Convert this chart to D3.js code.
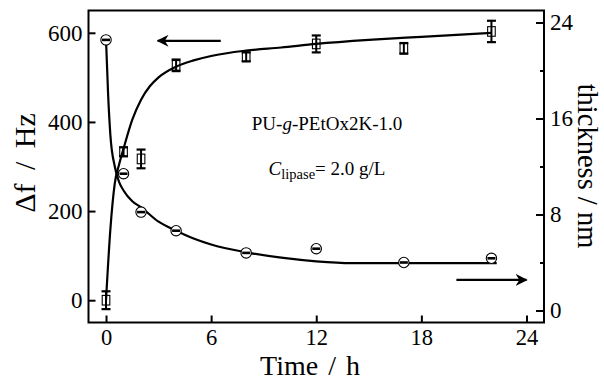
<!DOCTYPE html>
<html>
<head>
<meta charset="utf-8">
<script src="https://cdn.jsdelivr.net/npm/d3@7"></script>
<style>
  html, body { margin: 0; padding: 0; background: #fff; }
  svg { display: block; }
  text { font-family: "Liberation Serif", "Times New Roman", serif; fill: #000; }
</style>
</head>
<body>
<svg id="chart" width="604" height="381"></svg>
<script>
// Measurement times (h)
const times = [0, 1, 2, 4, 8, 12, 17, 22];
// Frequency shift Δf (Hz) with error bars
const dfValues = [0, 333, 317, 527, 546, 575, 565, 603];
const dfErrors = [20, 10, 21, 13, 10, 19, 12, 24];
// Film thickness (nm)
const thickValues = [22.55, 11.4, 8.2, 6.65, 4.8, 5.15, 4.0, 4.35];

// Fitted curves (t, value)
const dfFitT = [0, 0.25, 0.5, 0.75, 1, 1.5, 2, 2.5, 3, 4, 5, 6, 8, 10, 12, 15, 18, 22];
const dfFitV = [0, 160, 262, 305, 340, 405, 450, 480, 500, 524, 538, 548, 560, 567, 575, 584, 591, 600];
const thFitT = [0, 0.12, 0.25, 0.5, 0.75, 1, 1.5, 2, 3, 4, 5, 6, 8, 10, 12, 14, 17, 22.3];
const thFitV = [22.55, 18.0, 14.6, 12.0, 10.7, 10.0, 9.1, 8.6, 7.4, 6.65, 6.0, 5.5, 4.85, 4.4, 4.1, 3.95, 3.95, 3.95];

// Tick values
const xTicks = [0, 6, 12, 18, 24];
const yLeftTicks = [0, 200, 400, 600];
const yRightMajor = [0, 8, 16, 24];
const yRightMinor = [4, 12, 20];

const svg = d3.select("#chart");
const L = 88.5, R = 544, T = 10.5, B = 322.5;

const x = d3.scaleLinear().domain([-1, 25]).range([L, R]);
const yL = d3.scaleLinear().domain([-50, 650]).range([B, T]);
const yR = d3.scaleLinear().domain([-1, 25]).range([B, T]);

// Axes with inward ticks
function styleAxis(g, fs) {
  g.select(".domain").remove();
  g.selectAll(".tick line").attr("stroke", "#000").attr("stroke-width", 2);
  g.selectAll(".tick text").style("font-size", fs + "px")
    .style("font-family", "'Liberation Serif', serif").attr("fill", "#000");
}

svg.append("g").attr("transform", `translate(0,${B})`)
  .call(d3.axisBottom(x).tickValues(xTicks).tickSize(-7).tickPadding(7).tickFormat(d3.format("d")))
  .call(g => styleAxis(g, 22.5));

svg.append("g").attr("transform", `translate(${L},0)`)
  .call(d3.axisLeft(yL).tickValues(yLeftTicks).tickSize(-7).tickPadding(6).tickFormat(d3.format("d")))
  .call(g => styleAxis(g, 23));

svg.append("g").attr("transform", `translate(${R},0)`)
  .call(d3.axisRight(yR).tickValues(yRightMajor).tickSize(-8).tickPadding(6).tickFormat(d3.format("d")))
  .call(g => styleAxis(g, 23));

svg.append("g").attr("transform", `translate(${R},0)`)
  .call(d3.axisRight(yR).tickValues(yRightMinor).tickSize(-4).tickFormat(""))
  .call(g => styleAxis(g, 23));

// Plot frame
svg.append("rect").attr("x", L).attr("y", T).attr("width", R - L).attr("height", B - T)
  .attr("fill", "none").attr("stroke", "#000").attr("stroke-width", 2);

// Fit curves
const lineL = d3.line().x(d => x(d[0])).y(d => yL(d[1])).curve(d3.curveMonotoneX);
const lineR = d3.line().x(d => x(d[0])).y(d => yR(d[1])).curve(d3.curveMonotoneX);

svg.append("path").datum(d3.zip(dfFitT, dfFitV)).attr("d", lineL)
  .attr("fill", "none").attr("stroke", "#000").attr("stroke-width", 2.2);
svg.append("path").datum(d3.zip(thFitT, thFitV)).attr("d", lineR)
  .attr("fill", "none").attr("stroke", "#000").attr("stroke-width", 2.2);

// Δf points: hollow squares with error bars
const sq = svg.append("g").selectAll("g").data(times.map((t, i) => ({ t, v: dfValues[i], e: dfErrors[i] })))
  .join("g");
sq.append("line")
  .attr("x1", d => x(d.t)).attr("x2", d => x(d.t))
  .attr("y1", d => yL(d.v - d.e)).attr("y2", d => yL(d.v + d.e))
  .attr("stroke", "#000").attr("stroke-width", 2);
sq.append("line")
  .attr("x1", d => x(d.t) - 4.5).attr("x2", d => x(d.t) + 4.5)
  .attr("y1", d => yL(d.v - d.e)).attr("y2", d => yL(d.v - d.e))
  .attr("stroke", "#000").attr("stroke-width", 2.2);
sq.append("line")
  .attr("x1", d => x(d.t) - 4.5).attr("x2", d => x(d.t) + 4.5)
  .attr("y1", d => yL(d.v + d.e)).attr("y2", d => yL(d.v + d.e))
  .attr("stroke", "#000").attr("stroke-width", 2.2);
sq.append("rect")
  .attr("x", d => x(d.t) - 3.8).attr("y", d => yL(d.v) - 4.8)
  .attr("width", 7.6).attr("height", 9.6)
  .attr("fill", "none").attr("stroke", "#000").attr("stroke-width", 1.1);

// Thickness points: hollow circles with small error caps
const ci = svg.append("g").selectAll("g").data(times.map((t, i) => ({ t, v: thickValues[i] })))
  .join("g");
ci.append("circle")
  .attr("cx", d => x(d.t)).attr("cy", d => yR(d.v)).attr("r", 5.2)
  .attr("fill", "#fff").attr("stroke", "#000").attr("stroke-width", 1.1);
ci.append("line")
  .attr("x1", d => x(d.t) - 4).attr("x2", d => x(d.t) + 4)
  .attr("y1", d => yR(d.v)).attr("y2", d => yR(d.v))
  .attr("stroke", "#000").attr("stroke-width", 2.6);

// Direction arrows
const defs = svg.append("defs");
defs.append("marker").attr("id", "head").attr("viewBox", "0 0 10 10")
  .attr("refX", 9).attr("refY", 5).attr("markerWidth", 12).attr("markerHeight", 12)
  .attr("markerUnits", "userSpaceOnUse").attr("orient", "auto")
  .append("path").attr("d", "M0,0 L10,5 L0,10 L3,5 Z").attr("fill", "#000");

svg.append("line").attr("x1", x(6.55)).attr("x2", x(2.95))
  .attr("y1", yL(582)).attr("y2", yL(582))
  .attr("stroke", "#000").attr("stroke-width", 2.2).attr("marker-end", "url(#head)");
svg.append("line").attr("x1", x(20)).attr("x2", x(24))
  .attr("y1", yR(2.55)).attr("y2", yR(2.55))
  .attr("stroke", "#000").attr("stroke-width", 2.2).attr("marker-end", "url(#head)");

// Annotations
const ann1 = svg.append("text").attr("x", 327).attr("y", 130).attr("text-anchor", "middle")
  .style("font-size", "19px");
ann1.append("tspan").text("PU-");
ann1.append("tspan").style("font-style", "italic").text("g");
ann1.append("tspan").text("-PEtOx2K-1.0");

const ann2 = svg.append("text").attr("x", 327).attr("y", 175).attr("text-anchor", "middle")
  .style("font-size", "19px");
ann2.append("tspan").style("font-style", "italic").text("C");
ann2.append("tspan").attr("dy", 4).style("font-size", "14.5px").text("lipase");
ann2.append("tspan").attr("dy", -4).text("= 2.0 g/L");

// Axis titles
svg.append("text").attr("x", 310).attr("y", 375).attr("text-anchor", "middle")
  .style("font-size", "28px").style("word-spacing", "3px").text("Time / h");

svg.append("text").attr("transform", `translate(35,${163}) rotate(-90)`).attr("text-anchor", "middle")
  .style("font-size", "30px").style("word-spacing", "6px").text("Δf / Hz");

svg.append("text").attr("transform", `translate(578,${166}) rotate(90)`).attr("text-anchor", "middle")
  .style("font-size", "28.5px").text("thickness / nm");
</script>
</body>
</html>
